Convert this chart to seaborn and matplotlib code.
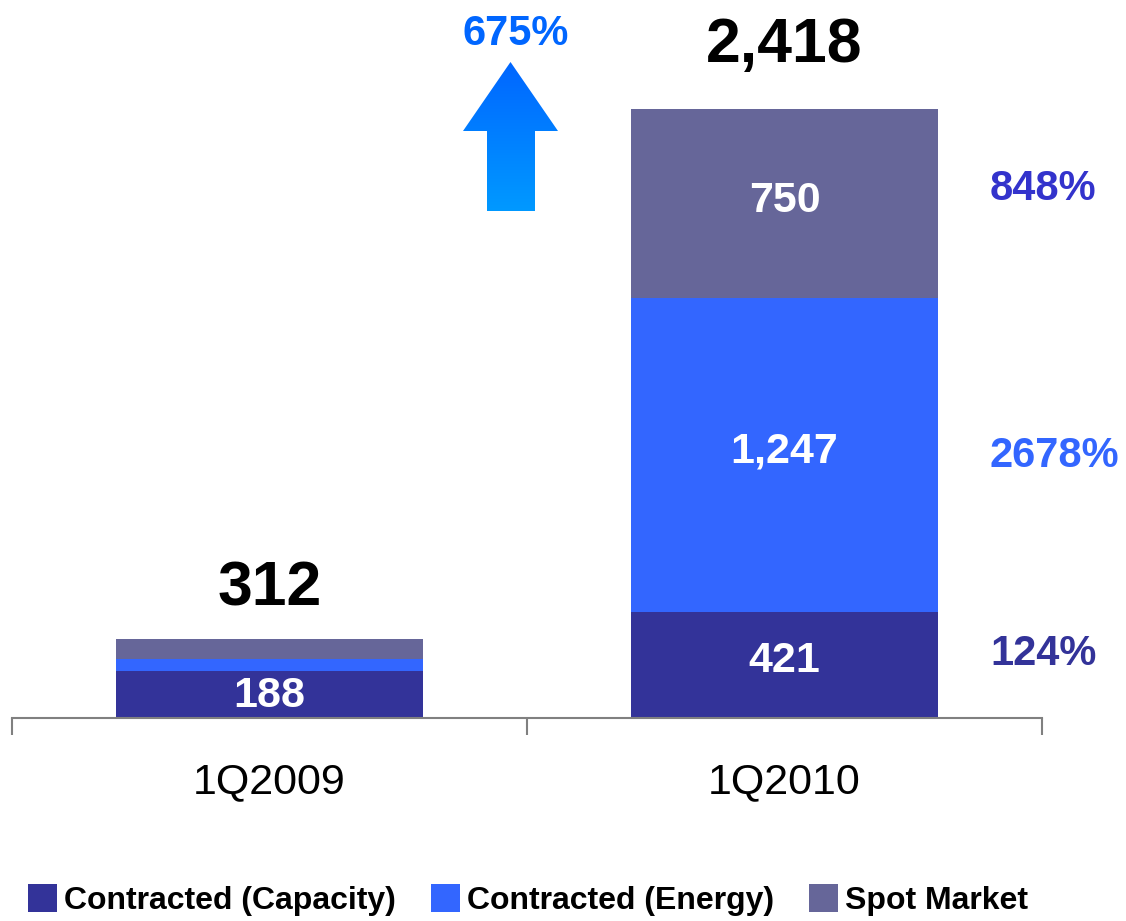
import numpy as np
import pandas as pd
import matplotlib
matplotlib.use("Agg")
import matplotlib.pyplot as plt
from matplotlib.patches import Polygon, Patch
from matplotlib.colors import LinearSegmentedColormap
import seaborn as sns

# data
quarters = ["1Q2009", "1Q2010"]
capacity = [188, 421]
energy = [45, 1247]
spot = [79, 750]
totals = [312, 2418]
growth_labels = ["124%", "2678%", "848%"]
total_growth = "675%"
series_names = ["Contracted (Capacity)", "Contracted (Energy)", "Spot Market"]

c_cap = "#333399"
c_en = "#3366FF"
c_spot = "#666699"

sns.set_style("white")
plt.rcParams["font.family"] = ["Liberation Sans", "DejaVu Sans"]

df = pd.DataFrame({"quarter": quarters, "capacity": capacity,
                   "energy": energy, "spot": spot})
df["cap_en"] = df["capacity"] + df["energy"]
df["total"] = df["cap_en"] + df["spot"]

fig = plt.figure(figsize=(11.26, 9.21), dpi=100)
ax = fig.add_axes([12 / 1126, 203 / 921, 1030 / 1126, 718 / 921])

# stacked bars by overlapping cumulative heights
sns.barplot(data=df, x="quarter", y="total", color=c_spot, width=0.596,
            saturation=1, ax=ax, linewidth=0)
sns.barplot(data=df, x="quarter", y="cap_en", color=c_en, width=0.596,
            saturation=1, ax=ax, linewidth=0)
sns.barplot(data=df, x="quarter", y="capacity", color=c_cap, width=0.596,
            saturation=1, ax=ax, linewidth=0)

ax.set_xlim(-0.5, 1.5)
ax.set_ylim(0, 2850)
ax.set_xlabel("")
ax.set_ylabel("")
ax.set_yticks([])
for s in ["left", "top", "right"]:
    ax.spines[s].set_visible(False)
ax.spines["bottom"].set_color("#808080")
ax.spines["bottom"].set_linewidth(1.5)

ax.set_xticks([0, 1])
ax.set_xticklabels(quarters, fontsize=31, color="black")
ax.tick_params(axis="x", which="major", length=0, pad=32)
ax.set_xticks([-0.5, 0.5, 1.5], minor=True)
ax.tick_params(axis="x", which="minor", bottom=True, length=12, width=1.5,
               color="#808080", direction="out")

# segment labels
cap_off = [-8, 16]
tot_off = [201, 253]
for i in range(len(quarters)):
    ax.text(i, df["capacity"][i] / 2 + cap_off[i], f"{capacity[i]:,}",
            ha="center", va="center", color="white", fontsize=31,
            fontweight="bold")
    ax.text(i, totals[i] + tot_off[i], f"{totals[i]:,}", ha="center", va="center",
            color="black", fontsize=45, fontweight="bold", clip_on=False)
ax.text(1, df["cap_en"][1] - energy[1] / 2 + 12, f"{energy[1]:,}", ha="center",
        va="center", color="white", fontsize=31, fontweight="bold")
ax.text(1, df["total"][1] - spot[1] / 2 + 8, f"{spot[1]:,}", ha="center",
        va="center", color="white", fontsize=31, fontweight="bold")

# growth labels to the right
mids = [capacity[1] / 2, df["cap_en"][1] - energy[1] / 2, df["total"][1] - spot[1] / 2]
g_off = [44, -4, 57]
gcols = [c_cap, c_en, "#3333CC"]
for m, o, lab, col in zip(mids, g_off, growth_labels, gcols):
    ax.text(1.399, m + o, lab, ha="left", va="center", color=col,
            fontsize=30, fontweight="bold", clip_on=False)

# arrow with gradient
fig.text(516 / 1126, 1 - 34 / 921, total_growth, ha="center", va="center",
         color="#0066FF", fontsize=30, fontweight="bold")
aax = fig.add_axes([463 / 1126, (921 - 211) / 921, 95 / 1126, 149 / 921])
aax.set_xlim(0, 95)
aax.set_ylim(0, 149)
aax.axis("off")
poly = Polygon([(24, 0), (72, 0), (72, 80), (95, 80), (47.5, 149),
                (0, 80), (24, 80)], closed=True, facecolor="none",
               edgecolor="none")
aax.add_patch(poly)
cmap = LinearSegmentedColormap.from_list("arr", ["#0099FF", "#0066FF"])
grad = np.linspace(0, 1, 256).reshape(-1, 1)
im = aax.imshow(grad, cmap=cmap, origin="lower", extent=[0, 95, 0, 149],
                aspect="auto")
im.set_clip_path(poly)

# legend
handles = [Patch(facecolor=c, edgecolor="none") for c in [c_cap, c_en, c_spot]]
leg = fig.legend(handles, series_names, loc="center",
                 bbox_to_anchor=(528 / 1126, 21 / 921),
                 ncol=3, frameon=False, prop={"size": 23, "weight": "bold"},
                 handlelength=0.9, handleheight=1.0, handletextpad=0.22,
                 columnspacing=1.1, borderpad=0, borderaxespad=0)
for t in leg.get_texts():
    t.set_color("black")

fig.savefig("out.png", dpi=100)
